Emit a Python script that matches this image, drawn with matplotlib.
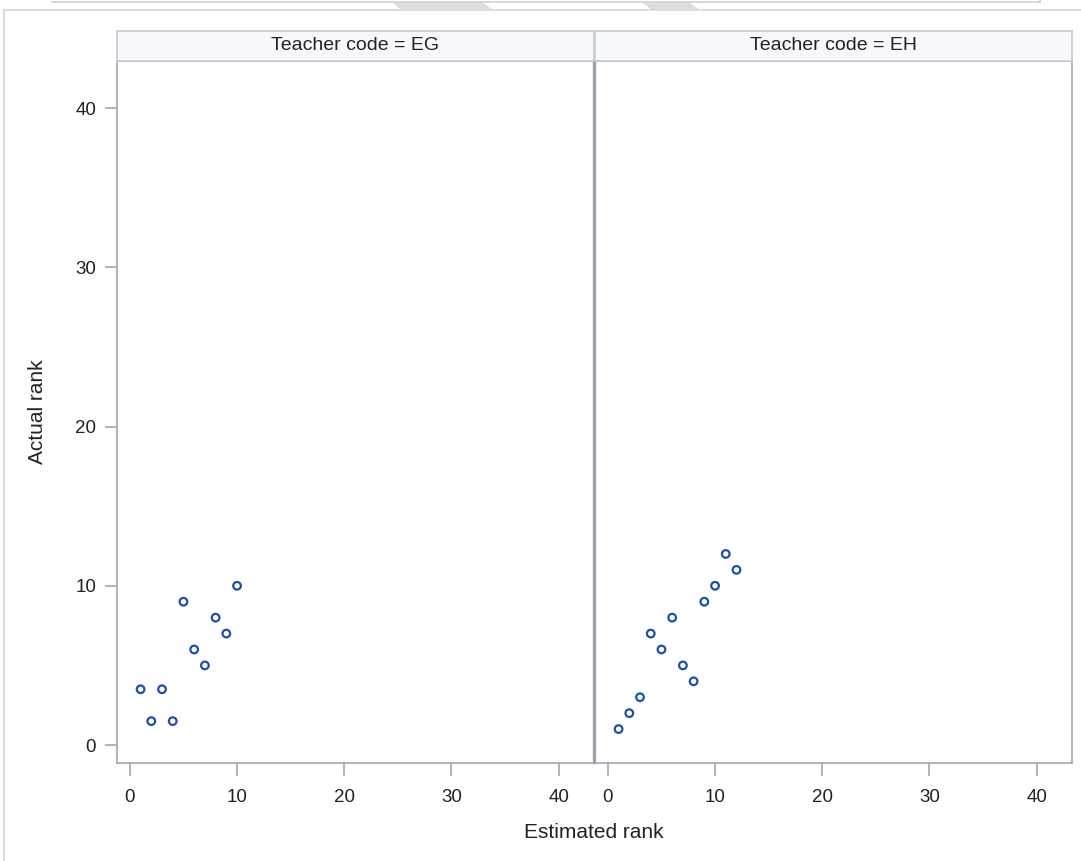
import matplotlib
matplotlib.use("Agg")
import matplotlib.pyplot as plt
from matplotlib.patches import Polygon
from matplotlib.lines import Line2D

# Data
panels = ["Teacher code = EG", "Teacher code = EH"]
eg_est = [1, 2, 3, 4, 5, 6, 7, 8, 9, 10]
eg_act = [3.5, 1.5, 3.5, 1.5, 9, 6, 5, 8, 7, 10]
eh_est = [1, 2, 3, 4, 5, 6, 7, 8, 9, 10, 11, 12]
eh_act = [1, 2, 3, 7, 6, 8, 5, 4, 9, 10, 12, 11]
ticks = [0, 10, 20, 30, 40]
xlabel = "Estimated rank"
ylabel = "Actual rank"

plt.rcParams['font.family'] = ['Liberation Sans Narrow', 'Liberation Sans', 'DejaVu Sans']

W, H = 1081, 861
fig = plt.figure(figsize=(W / 100, H / 100), dpi=100)

def fx(px):
    return px / W

def fy(py):
    return 1 - py / H

frame_col = '#A3A8AD'
div_col = '#9BA1A8'
pt_col = '#1F4DB0'
txt_col = '#222222'

# decorations: outer page border lines and top box
fig.add_artist(Line2D([fx(4), fx(4)], [fy(10), fy(861)], color='#D8D8D8', lw=1.2))
fig.add_artist(Line2D([fx(4), fx(1081)], [fy(10), fy(10)], color='#D8D8D8', lw=1.2))
fig.add_artist(Line2D([fx(52), fx(1040)], [fy(2), fy(2)], color='#CFCFCF', lw=1.2))
fig.add_artist(Line2D([fx(1040), fx(1040)], [fy(0), fy(2)], color='#CFCFCF', lw=1.2))
fig.add_artist(Polygon([[fx(393), fy(3)], [fx(483), fy(3)], [fx(492), fy(9)], [fx(400), fy(9)]],
                       closed=True, color='#DCDCDC', lw=0))
fig.add_artist(Polygon([[fx(643), fy(3)], [fx(690), fy(3)], [fx(698), fy(9)], [fx(650), fy(9)]],
                       closed=True, color='#DCDCDC', lw=0))

ax_left_px = [(117, 594), (595, 1072)]
top_px, bot_px = 61, 763
head_top = 31

datasets = [(eg_est, eg_act), (eh_est, eh_act)]

for i, ((l, r), (xs, ys), title) in enumerate(zip(ax_left_px, datasets, panels)):
    ax = fig.add_axes([fx(l), fy(bot_px), fx(r) - fx(l), fy(top_px) - fy(bot_px)])
    ax.scatter(xs, ys, s=30, facecolors='none', edgecolors=pt_col, linewidths=1.6, zorder=3)
    ax.set_xlim(-1.2, 43.3)
    ax.set_ylim(-1.13, 42.96)
    ax.set_xticks(ticks)
    ax.set_yticks(ticks)
    for sp in ax.spines.values():
        sp.set_color(frame_col)
        sp.set_linewidth(1.2)
    ax.tick_params(axis='x', colors=frame_col, labelcolor=txt_col, labelsize=13.5,
                   length=9, width=1.2, pad=10)
    ax.tick_params(axis='y', colors=frame_col, labelcolor=txt_col, labelsize=13.5,
                   length=9, width=1.2, pad=6)
    if i == 1:
        ax.tick_params(axis='y', left=False, labelleft=False)
        ax.spines['left'].set_color(div_col)
        ax.spines['left'].set_linewidth(1.7)
    else:
        ax.spines['right'].set_color(div_col)
        ax.spines['right'].set_linewidth(1.7)
        ax.set_ylabel(ylabel, fontsize=15, color=txt_col, labelpad=20)
    # header strip
    hax = fig.add_axes([fx(l), fy(top_px), fx(r) - fx(l), fy(head_top) - fy(top_px)])
    hax.set_facecolor('#F6F8FE')
    hax.set_xticks([])
    hax.set_yticks([])
    for sp in hax.spines.values():
        sp.set_color('#C8CCD0')
        sp.set_linewidth(1.2)
    hax.text(0.5, 0.5, title, ha='center', va='center', fontsize=14, color=txt_col,
             transform=hax.transAxes)

fig.text(fx(594), fy(833), xlabel, ha='center', va='center', fontsize=15, color=txt_col)

fig.savefig('out.png', dpi=100)
